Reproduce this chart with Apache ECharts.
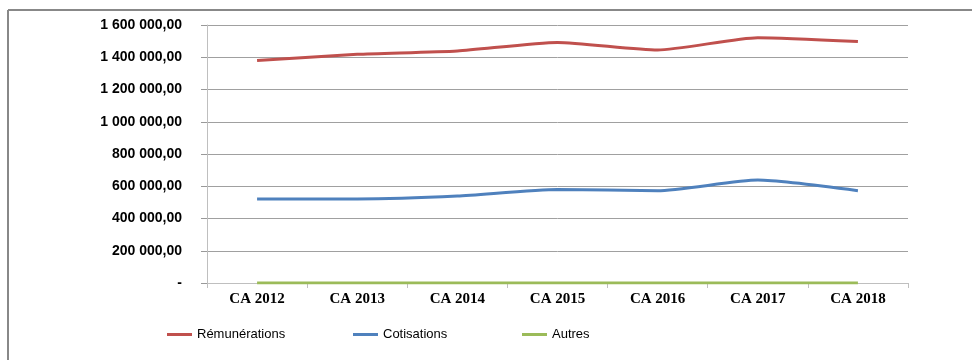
<!DOCTYPE html>
<html>
<head>
<meta charset="utf-8">
<script src="https://cdn.jsdelivr.net/npm/echarts@6/dist/echarts.min.js"></script>
<style>
html,body{margin:0;padding:0;background:#fff;}
#chart{width:972px;height:360px;}
</style>
</head>
<body>
<div id="chart"></div>
<script>
const categories = ['CA 2012', 'CA 2013', 'CA 2014', 'CA 2015', 'CA 2016', 'CA 2017', 'CA 2018'];
const remunerations = [1380000, 1418000, 1439000, 1492000, 1445000, 1521000, 1497000];
const cotisations = [521000, 521000, 539000, 580000, 572000, 638000, 572000];
const autres = [0, 0, 0, 0, 0, 0, 0];
const seriesNames = ['Rémunérations', 'Cotisations', 'Autres'];
const seriesColors = ['#C0504D', '#4F81BD', '#9BBB59'];
const yTicks = [0, 200000, 400000, 600000, 800000, 1000000, 1200000, 1400000, 1600000];

function fmt(v) {
  if (v === 0) return '-';
  const s = String(Math.round(v)).replace(/\B(?=(\d{3})+(?!\d))/g, ' ');
  return s + ',00';
}

const chart = echarts.init(document.getElementById('chart'), null, {renderer: 'canvas'});
const legendFont = {fontFamily: '"Liberation Sans", sans-serif', fontSize: 13, color: '#000'};
const legendLefts = [162, 348, 517];

chart.setOption({
  animation: false,
  backgroundColor: '#fff',
  graphic: [
    {type: 'line', shape: {x1: 8, y1: 10, x2: 972, y2: 10}, style: {stroke: '#888', lineWidth: 2}},
    {type: 'line', shape: {x1: 8, y1: 10, x2: 8, y2: 360}, style: {stroke: '#888', lineWidth: 2}}
  ],
  grid: {left: 207, right: 64, top: 25, bottom: 77},
  legend: seriesNames.map((n, i) => ({
    data: [n],
    left: legendLefts[i],
    top: 323,
    icon: 'rect',
    itemWidth: 25,
    itemHeight: 3,
    itemGap: 3,
    textStyle: legendFont
  })),
  xAxis: {
    type: 'category',
    data: categories,
    boundaryGap: true,
    axisLine: {lineStyle: {color: '#bfbfbf', width: 1}},
    axisTick: {show: true, length: 5, lineStyle: {color: '#bfbfbf'}},
    axisLabel: {
      margin: 9,
      fontFamily: '"Liberation Serif", serif',
      fontWeight: 'bold',
      fontSize: 15,
      color: '#000'
    }
  },
  yAxis: {
    type: 'value',
    min: yTicks[0],
    max: yTicks[yTicks.length - 1],
    interval: yTicks[1] - yTicks[0],
    axisLine: {show: true, lineStyle: {color: '#bfbfbf', width: 1}},
    axisTick: {show: true, length: 6, lineStyle: {color: '#999'}},
    splitLine: {lineStyle: {color: '#a0a0a0', width: 1}},
    axisLabel: {
      margin: 25,
      formatter: fmt,
      fontFamily: '"Liberation Sans", sans-serif',
      fontWeight: 'bold',
      fontSize: 14,
      color: '#000'
    }
  },
  series: [remunerations, cotisations, autres].map((d, i) => ({
    name: seriesNames[i],
    type: 'line',
    data: d,
    smooth: 0.2,
    showSymbol: false,
    symbol: 'none',
    lineStyle: {color: seriesColors[i], width: 3},
    itemStyle: {color: seriesColors[i]},
    z: 3 - i
  }))
});
</script>
</body>
</html>
